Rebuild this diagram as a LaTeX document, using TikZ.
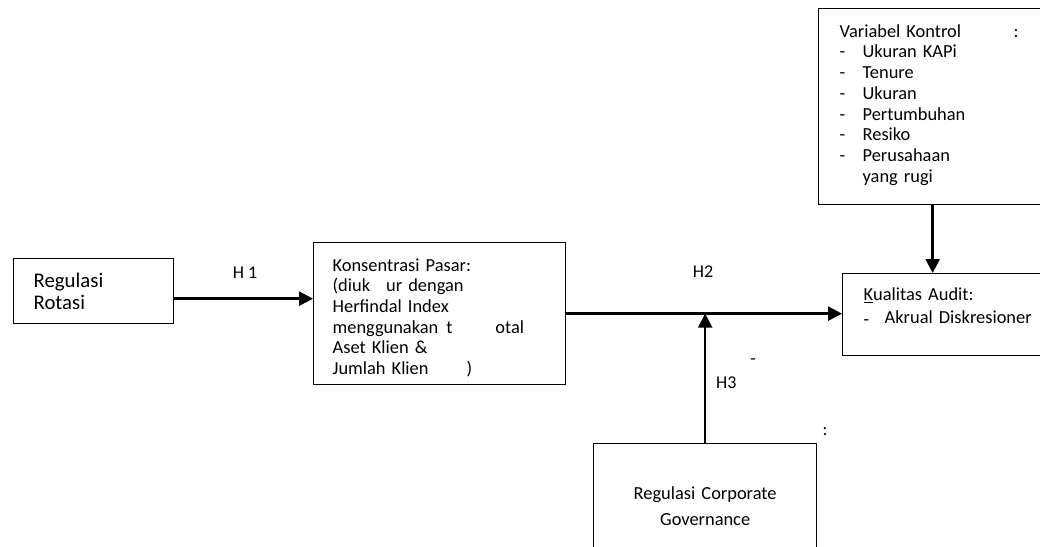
\documentclass[tikz,border=0pt]{standalone}
\usepackage{fontspec}
\setmainfont{Carlito}
\usepackage{tikz}
\usetikzlibrary{positioning,%
  calc,%
  arrows.meta
}

\newcommand{\itm}[1]{\makebox[23pt][l]{-}#1}

\begin{document}
\begin{tikzpicture}[x=1pt,y=-1pt,
    box/.style={draw,line width=1.3pt,rectangle,anchor=north west,align=left,inner ysep=0pt},
    txt/.style={font=\fontsize{18.4}{20.7}\selectfont},
    lbl/.style={font=\fontsize{18}{20}\selectfont,inner sep=0pt},
    arr/.style={line width=2.4pt,-{Triangle[length=14pt,width=14pt]}}
  ]
  \useasboundingbox (0,0) rectangle (1040,546);
  \clip (0,0) rectangle (1040,546);

  % boxes
  \node[box,font=\fontsize{20.8}{22}\selectfont,inner xsep=20pt,text width=120pt,
    minimum width=160pt,minimum height=65pt] (rot) at (13,258) {Regulasi\\Rotasi};
  \node[box,txt,inner xsep=19pt,text width=214pt,minimum width=252pt,minimum height=142pt]
    (kons) at (313,242) {\rule{0pt}{21pt}Konsentrasi Pasar:\\(diuk\hspace{16pt}ur dengan\\Herfindal Index\\
    menggunakan\hspace{8pt}t\hspace{43pt}otal\\Aset Klien \&\\Jumlah Klien\hspace{38pt})};
  \node[box,txt,inner xsep=21pt,text width=186pt,minimum width=228pt,minimum height=196pt]
    (kv) at (818,8) {\makebox[174pt][l]{Variabel Kontrol}:\\\itm{Ukuran KAPi}\\\itm{Tenure}\\
    \itm{Ukuran}\\\itm{Pertumbuhan}\\\itm{Resiko}\\\itm{Perusahaan}\\\hspace*{23pt}yang rugi\\[-14pt]\mbox{}};
  \node[box,font=\fontsize{18.4}{23.4}\selectfont,inner xsep=21pt,text width=178pt,
    minimum width=220pt,minimum height=82pt] (kual) at (842,273)
    {\underline{K}ualitas Audit:\\\makebox[21pt][l]{\raisebox{-2pt}{-}}Akrual Diskresioner\\[-5.4pt]\mbox{}};
  \node[box,align=center,font=\fontsize{18.4}{26}\selectfont,text width=200pt,
    minimum width=223pt,minimum height=126pt] (cg) at (593,443) {Regulasi Corporate\\Governance};

  % arrows
  \coordinate (h1s) at ($(rot.east)+(0,7.5)$);
  \draw[arr] (h1s) -- (h1s -| kons.west);
  \draw[arr] (kons.east) -- (kons.east -| kual.west);
  \draw[arr] (kv.south) -- (kv.south |- kual.north);
  \draw[arr] (cg.north) -- (cg.north |- kons.east);

  \node[lbl] (lh1) at (245,273) {H 1};
  \node[lbl] (lh2) at (703,272) {H2};
  \node[lbl,anchor=west] (lh3) at (716,383) {H3};
  \node[lbl] (mdash) at (753,362) {-};
  \node[lbl] (mcolon) at (825,432) {:};
\end{tikzpicture}
\end{document}
